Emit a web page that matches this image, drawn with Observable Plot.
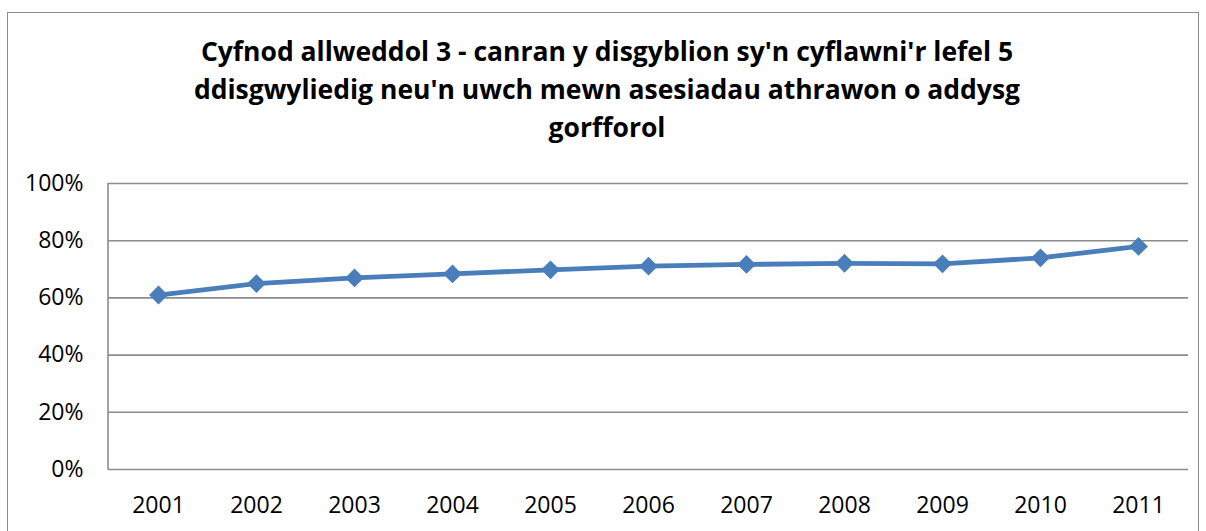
<!DOCTYPE html>
<html>
<head>
<meta charset="utf-8">
<script src="https://cdn.jsdelivr.net/npm/d3@7"></script>
<script src="https://cdn.jsdelivr.net/npm/@observablehq/plot@0.6"></script>
<style>
  html, body { margin: 0; padding: 0; background: #fff; }
  body { width: 1206px; height: 531px; overflow: hidden; position: relative; font-family: "Open Sans", sans-serif; }
  #frame { position: absolute; left: 7px; top: 12px; width: 1192px; height: 560px; border: 1.5px solid #8c8c8c; box-sizing: border-box; }
  #title { position: absolute; left: 0; top: 32px; width: 1214px; text-align: center; font-weight: bold; font-size: 26.5px; line-height: 38px; color: #000; }
  #chart { position: absolute; left: 0; top: 160px; }
</style>
</head>
<body>
<div id="frame"></div>
<div id="title">Cyfnod allweddol 3 - canran y disgyblion sy'n cyflawni'r lefel 5<br>ddisgwyliedig neu'n uwch mewn asesiadau athrawon o addysg<br>gorfforol</div>
<div id="chart"></div>
<script>
const years = ["2001","2002","2003","2004","2005","2006","2007","2008","2009","2010","2011"];
const values = [61.0, 65.0, 67.0, 68.4, 69.8, 71.1, 71.7, 72.1, 71.9, 74.0, 78.0];
const yTicks = [0, 20, 40, 60, 80, 100];

const data = years.map((y, i) => ({year: y, value: values[i]}));

const chart = Plot.plot({
  width: 1206,
  height: 371,
  marginTop: 23,
  marginBottom: 62,
  marginLeft: 108,
  marginRight: 18,
  style: {fontFamily: "'Open Sans', sans-serif", fontSize: "23px", color: "#000", background: "transparent"},
  x: {type: "point", domain: years, padding: 0.5, label: null},
  y: {domain: [0, 100], ticks: yTicks, label: null},
  marks: [
    Plot.ruleY(yTicks, {stroke: "#8c8c8c", strokeWidth: 1.6, strokeOpacity: 1}),
    Plot.axisY({ticks: yTicks, tickSize: 0, tickPadding: 25, tickFormat: d => d + "%", fontSize: 23, label: null}),
    Plot.axisX({tickSize: 0, tickPadding: 27, fontSize: 23, label: null}),
    Plot.line(data, {x: "year", y: "value", stroke: "#4a7ebb", strokeWidth: 4.8}),
    Plot.dot(data, {x: "year", y: "value", symbol: "diamond2", r: 8.5, fill: "#4a7ebb", stroke: "none"})
  ]
});
document.getElementById("chart").appendChild(chart);

// left axis line of plot area
const svg = d3.select(chart);
svg.insert("line", ":first-child")
  .attr("x1", 108).attr("x2", 108).attr("y1", 23).attr("y2", 309.5)
  .attr("stroke", "#8c8c8c").attr("stroke-width", 1.6);
</script>
</body>
</html>
